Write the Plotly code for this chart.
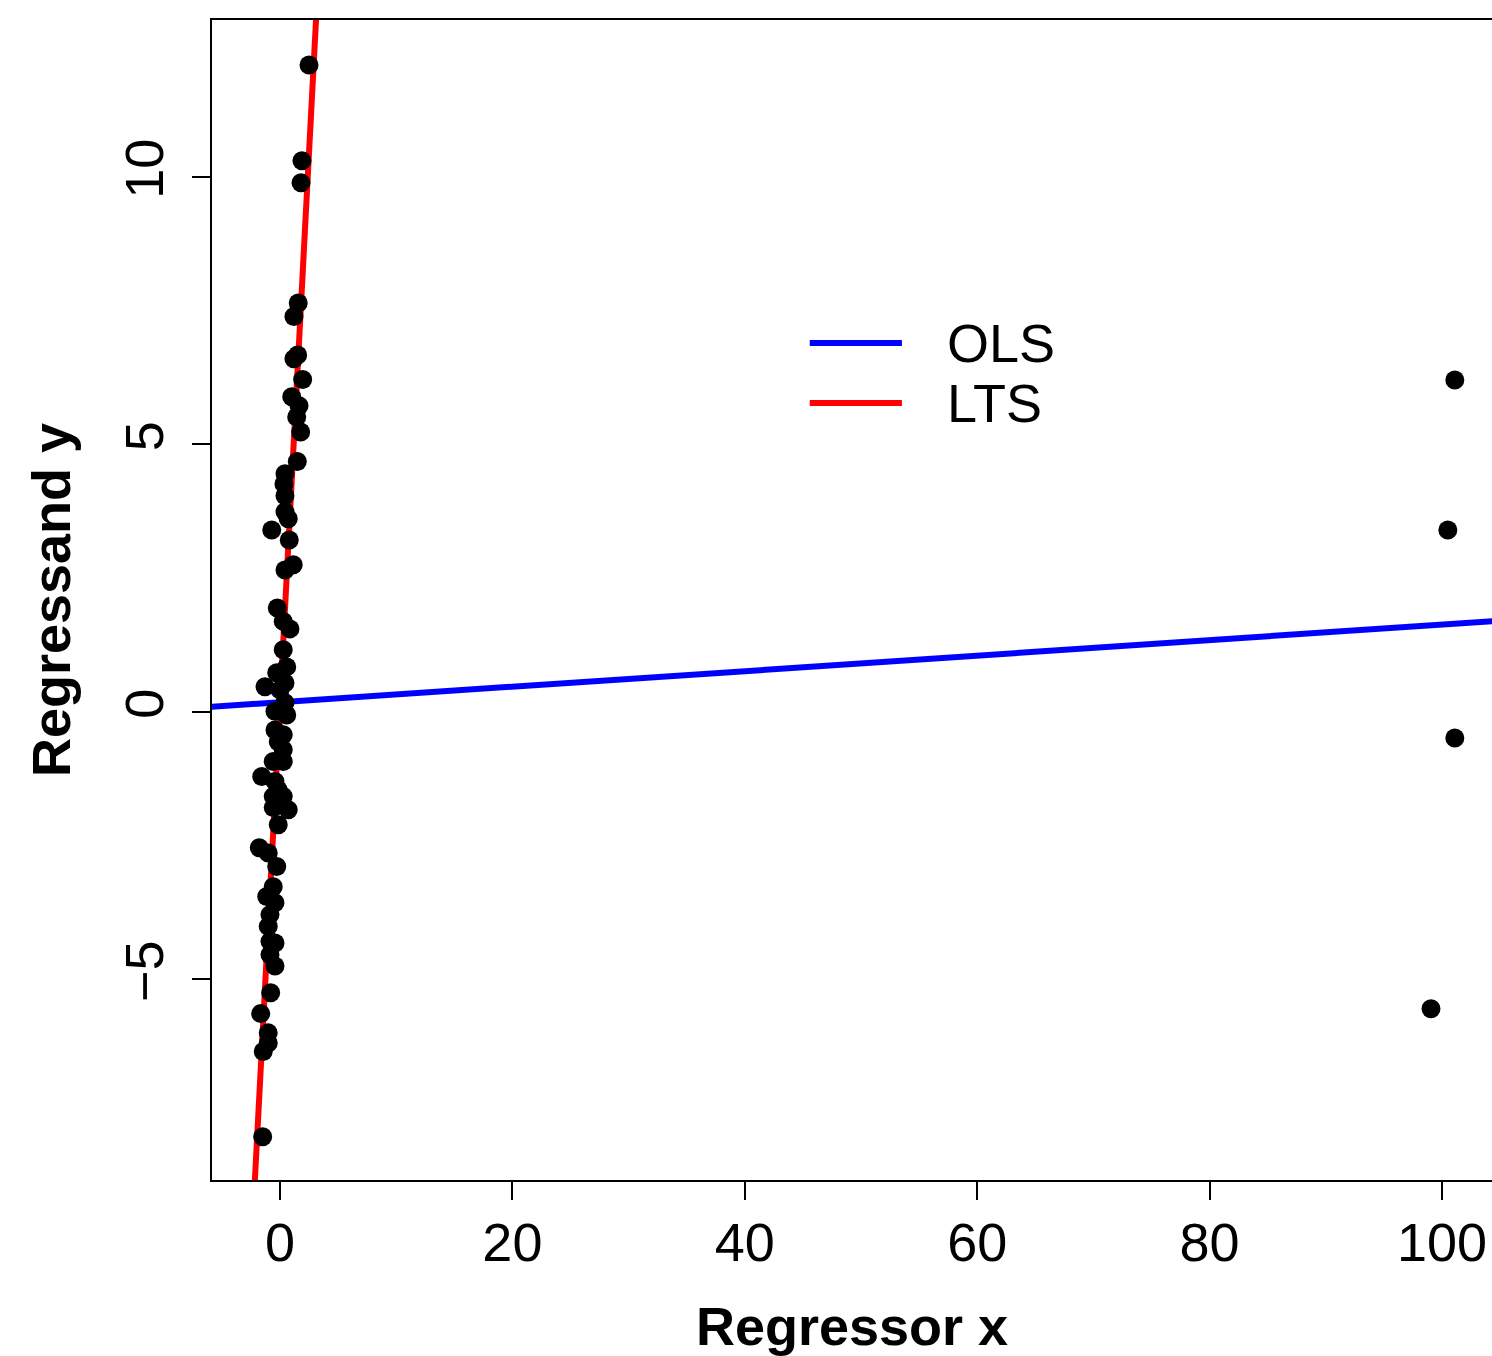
import plotly.graph_objects as go

# points (regressor x, regressand y)
x_vals = [2.50, 1.89, 1.81, 1.57, 1.20, 1.52, 1.20, 1.95, 1.01, 1.64,
          1.44, 1.78, 1.49, 0.43, 0.34, 0.43, 0.43, 0.71, -0.71, 0.80,
          1.14, 0.43, -0.23, 0.28, 0.86, 0.28, 0.58, -0.28, -1.29, 0.43,
          0.00, 0.43, -0.43, 0.58, -0.43, 0.28, -0.15, 0.28, -0.58, 0.28,
          -1.57, -0.43, -0.15, -0.58, 0.28, -0.58, 0.71, -0.15, -1.78, -1.01,
          -0.28, -0.58, -1.14, -0.43, -0.86, -1.01, -0.86, -0.43, -0.86, -0.43,
          -0.80, -1.66, -1.01, -1.01, -1.44, -1.49,
          101.1, 100.5, 101.1, 99.05]
y_vals = [12.09, 10.30, 9.89, 7.64, 7.39, 6.67, 6.60, 6.21, 5.89, 5.72,
          5.51, 5.23, 4.68, 4.45, 4.26, 4.04, 3.74, 3.61, 3.40, 3.21,
          2.75, 2.65, 1.94, 1.69, 1.55, 1.16, 0.84, 0.73, 0.47, 0.54,
          0.41, 0.17, 0.01, -0.06, -0.34, -0.43, -0.56, -0.71, -0.93, -0.93,
          -1.21, -1.30, -1.46, -1.58, -1.58, -1.79, -1.83, -2.11, -2.54, -2.64,
          -2.89, -3.27, -3.45, -3.57, -3.79, -4.01, -4.29, -4.32, -4.54, -4.75,
          -5.25, -5.64, -6.00, -6.19, -6.35, -7.94,
          6.20, 3.40, -0.49, -5.55]

# fitted lines: intercept, slope
ols_coef = [0.18, 0.0145]
lts_coef = [0.15, 4.12]

x_range = [-5.85, 104.3]
y_range = [-8.75, 12.93]
x_ticks = [0, 20, 40, 60, 80, 100]
y_ticks = [-5, 0, 5, 10]

FONT = "Liberation Sans, Arial, sans-serif"


def line_pts(coef):
    xs = [-50, 200]
    return xs, [coef[0] + coef[1] * v for v in xs]


fig = go.Figure()
ox, oy = line_pts(ols_coef)
lx, ly = line_pts(lts_coef)
fig.add_trace(go.Scatter(x=ox, y=oy, mode="lines", line=dict(color="#0000FF", width=6),
                         showlegend=False, hoverinfo="skip"))
fig.add_trace(go.Scatter(x=lx, y=ly, mode="lines", line=dict(color="#FF0000", width=6),
                         showlegend=False, hoverinfo="skip"))
fig.add_trace(go.Scatter(x=x_vals, y=y_vals, mode="markers",
                         marker=dict(size=19, color="black"), showlegend=False))

# legend drawn by hand so the line keys are long like the original
for ypos, col, label in [(0.7216, "#0000FF", "OLS"), (0.6698, "#FF0000", "LTS")]:
    fig.add_shape(type="line", xref="paper", yref="paper", x0=0.467, x1=0.539,
                  y0=ypos, y1=ypos, line=dict(color=col, width=6))
    fig.add_annotation(xref="paper", yref="paper", x=0.5727, y=ypos, text=label,
                       showarrow=False, xanchor="left", yanchor="middle",
                       font=dict(size=54, color="black", family=FONT))

fig.update_xaxes(range=x_range, tickvals=x_ticks, ticks="outside", ticklen=18, tickwidth=2,
                 tickcolor="black", showline=True, linecolor="black", linewidth=2, mirror=True,
                 showgrid=False, zeroline=False, tickfont=dict(size=54, family=FONT, color="black"),
                 ticklabelstandoff=-4,
                 title=dict(text="<b>Regressor x</b>", font=dict(size=54, family=FONT, color="black"),
                            standoff=38))
fig.update_yaxes(range=y_range, tickvals=y_ticks, ticktext=["\u22125", "0", "5", "10"],
                 ticks="outside", ticklen=18, tickwidth=2, tickangle=-90, ticklabelstandoff=7,
                 tickcolor="black", showline=True, linecolor="black", linewidth=2,
                 showgrid=False, zeroline=False, tickfont=dict(size=54, family=FONT, color="black"),
                 title=dict(text="<b>Regressand y</b>", font=dict(size=54, family=FONT, color="black"),
                            standoff=27))
fig.update_layout(width=1492, height=1356, plot_bgcolor="white", paper_bgcolor="white",
                  margin=dict(l=212, r=0, t=20, b=176, autoexpand=False))
fig.write_html("out.html", config={"displayModeBar": False},
               post_script="document.body.style.margin='0';")
